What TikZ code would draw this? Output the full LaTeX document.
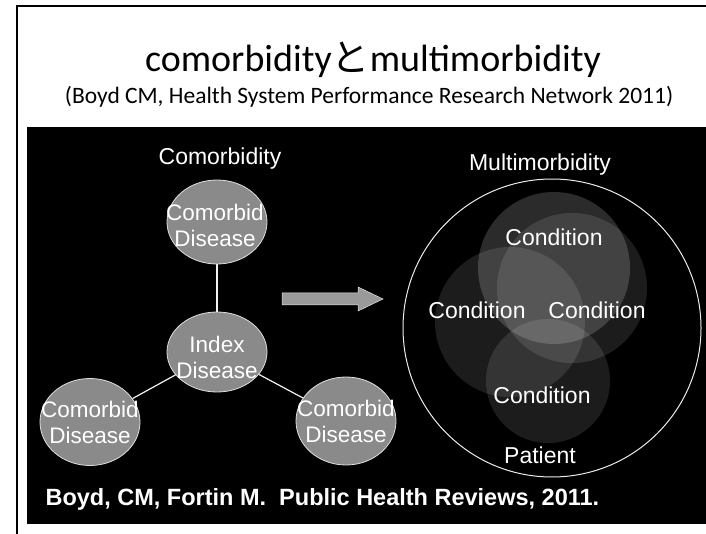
\documentclass[tikz,border=0pt]{standalone}
\usepackage{fontspec}
\setmainfont{Carlito}
\newfontfamily\arialfont{Liberation Sans}
\newfontfamily\cjkfont{Noto Sans CJK JP}
\usepackage{tikz}
\usetikzlibrary{shapes.geometric}

\definecolor{diseasegray}{HTML}{8A8A8A}
\definecolor{arrowgray}{HTML}{9A9A9A}

\tikzset{
    disease/.style={ellipse, draw=white!75!gray, line width=0.8pt, fill=diseasegray, minimum width=100pt, minimum height=84pt, inner sep=0pt},
    distext/.style={white, align=center, font=\arialfont\fontsize{22.5}{26}\selectfont},
    condition/.style={circle, fill=white, fill opacity=0.11, inner sep=0pt},
    condtext/.style={white, font=\arialfont\fontsize{23}{27}\selectfont},
    edge/.style={white!90!gray, line width=1.2pt}
}

\begin{document}
\begin{tikzpicture}[x=1pt, y=-1pt]
    \useasboundingbox (0,0) rectangle (706,534);

    % frame
    \draw[line width=1.5pt] (706,6) -- (17,6) -- (17,534);
    \fill[black] (27,127) rectangle (706,524);

    % title
    \node[anchor=base, font=\fontsize{38}{44}\selectfont] (title) at (373,72) {comorbidity{\cjkfont と}multimorbidity};
    \node[anchor=base, font=\fontsize{23.5}{28}\selectfont] (subtitle) at (369,104) {(Boyd CM, Health System Performance Research Network 2011)};

    % Comorbidity
    \node[anchor=base, condtext] (comlabel) at (220,165) {Comorbidity};
    \node[disease] (topdis) at (217,222) {};
    \node[disease, minimum height=80pt] (index) at (217,352) {};
    \node[disease, minimum height=87pt] (leftdis) at (90,422) {};
    \node[disease, minimum height=88pt] (rightdis) at (346,421) {};
    \draw[edge] (topdis) -- (index);
    \draw[edge] (index) -- (leftdis);
    \draw[edge] (index) -- (rightdis);
    \node[distext] at (215,225) {Comorbid\\Disease};
    \node[distext] at (217,357) {Index\\Disease};
    \node[distext] at (90,422) {Comorbid\\Disease};
    \node[distext] at (346,421) {Comorbid\\Disease};

    % arrow
    \fill[arrowgray, draw=white!80!gray, line width=0.5pt] (282,293) -- (358,293) -- (358,287) -- (383,299) -- (358,311) -- (358,305) -- (282,305) -- cycle;

    % Multimorbidity
    \node[anchor=base, condtext] (multilabel) at (540,171) {Multimorbidity};
    \node[circle, draw=white!85!gray, line width=1pt, minimum size=298pt, inner sep=0pt] (patient) at (552,328) {};
    \node[condition, minimum size=152pt, fill opacity=0.17] (topcond) at (554,268) {};
    \node[condition, minimum size=150pt] (leftcond) at (510,322) {};
    \node[condition, minimum size=150pt] (rightcond) at (572,288) {};
    \node[condition, minimum size=124pt] (bottomcond) at (548,381) {};
    \node[condtext] at (554,237) {Condition};
    \node[condtext] at (477,310) {Condition};
    \node[condtext] at (597,310) {Condition};
    \node[condtext] at (542,395) {Condition};
    \node[condtext] at (540,455) {Patient};

    % source
    \node[anchor=base west, white, font=\arialfont\bfseries\fontsize{23.5}{28}\selectfont] (source) at (42,505) {Boyd, CM, Fortin M.\ \ Public Health Reviews, 2011.};
\end{tikzpicture}
\end{document}
